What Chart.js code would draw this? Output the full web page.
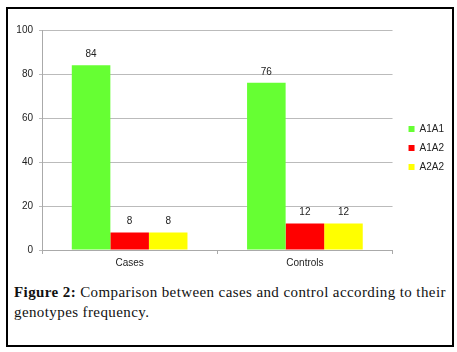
<!DOCTYPE html>
<html>
<head>
<meta charset="utf-8">
<script src="https://cdn.jsdelivr.net/npm/chart.js@4"></script>
<style>
  body { margin: 0; background: #fff; width: 457px; height: 352px; overflow: hidden; }
  #frame { position: absolute; left: 6px; top: 7px; width: 444px; height: 336px; border: 2px solid #000; }
  #wrap { position: absolute; left: 0; top: 0; width: 457px; height: 272px; }
  #caption { position: absolute; left: 14px; top: 282px; width: 440px; font-family: "Liberation Serif", "DejaVu Serif", serif;
    font-size: 15px; letter-spacing: 0.4px; line-height: 20px; color: #111; }
</style>
</head>
<body>
<div id="frame"></div>
<div id="wrap"><canvas id="chart" width="457" height="272"></canvas></div>
<div id="caption"><b>Figure 2:</b> Comparison between cases and control according to their genotypes frequency.</div>
<script>
// chart data
const categories = ['Cases', 'Controls'];
const seriesNames = ['A1A1', 'A1A2', 'A2A2'];
const seriesColors = ['#66ff33', '#ff0000', '#ffff00'];
const a1a1 = [84, 76];
const a1a2 = [8, 12];
const a2a2 = [8, 12];
const yTicks = [0, 20, 40, 60, 80, 100];

const seriesValues = [a1a1, a1a2, a2a2];

// value labels above each bar
const barLabels = {
    id: 'barLabels',
    afterDatasetsDraw(chart) {
        const ctx = chart.ctx;
        ctx.save();
        ctx.font = '10px "Liberation Sans", sans-serif';
        ctx.fillStyle = '#222';
        ctx.textAlign = 'center';
        ctx.textBaseline = 'middle';
        chart.data.datasets.forEach((ds, i) => {
            chart.getDatasetMeta(i).data.forEach((bar, j) => {
                ctx.fillText(ds.data[j], bar.x, bar.y - 11);
            });
        });
        ctx.restore();
    }
};

// nudge the legend a bit to the right of the plot, like the original
const legendShift = {
    id: 'legendShift',
    afterLayout(chart) {
        chart.legend.left += 7;
        chart.legend.right += 7;
        chart.legend.top -= 3;
        chart.legend.bottom -= 3;
    }
};

const ctx = document.getElementById('chart').getContext('2d');
const chart = new Chart(ctx, {
    type: 'bar',
    data: {
        labels: categories,
        datasets: seriesNames.map((name, i) => ({
            label: name,
            data: seriesValues[i],
            backgroundColor: seriesColors[i],
            borderWidth: 0,
            categoryPercentage: 0.66,
            barPercentage: 1
        }))
    },
    options: {
        responsive: false,
        animation: false,
        layout: { padding: { left: 0, top: 30, right: 10, bottom: 0 } },
        plugins: {
            tooltip: { enabled: false },
            legend: {
                position: 'right',
                align: 'center',
                labels: {
                    boxWidth: 6,
                    boxHeight: 6,
                    padding: 9,
                    color: '#222',
                    font: { family: '"Liberation Sans", sans-serif', size: 10 }
                }
            }
        },
        scales: {
            x: {
                grid: { drawOnChartArea: false, offset: true, tickLength: 4, color: '#aaa' },
                border: { color: '#aaa' },
                ticks: { color: '#222', padding: 3, font: { family: '"Liberation Sans", sans-serif', size: 10 } }
            },
            y: {
                min: 0,
                max: 100,
                afterFit: s => { s.width = 42; },
                afterBuildTicks: s => { s.ticks = yTicks.map(v => ({ value: v })); },
                grid: { color: '#bbb', tickLength: 3 },
                border: { color: '#aaa' },
                ticks: { color: '#222', padding: 6, font: { family: '"Liberation Sans", sans-serif', size: 10 } }
            }
        }
    },
    plugins: [barLabels, legendShift]
});
</script>
</body>
</html>
